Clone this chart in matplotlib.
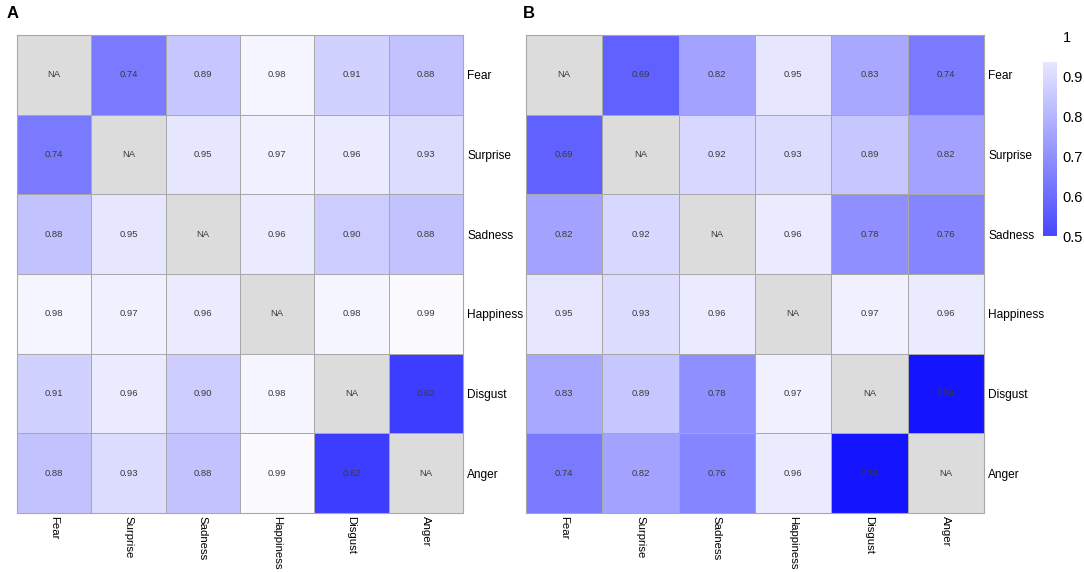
import numpy as np
import matplotlib
matplotlib.use("Agg")
import matplotlib.pyplot as plt
from matplotlib.colors import LinearSegmentedColormap

plt.rcParams['font.family'] = ['Liberation Sans', 'DejaVu Sans']

emotions = ['Fear', 'Surprise', 'Sadness', 'Happiness', 'Disgust', 'Anger']
na = np.nan

# panel A
values_a = [
    [na, 0.74, 0.89, 0.98, 0.91, 0.88],
    [0.74, na, 0.95, 0.97, 0.96, 0.93],
    [0.88, 0.95, na, 0.96, 0.90, 0.88],
    [0.98, 0.97, 0.96, na, 0.98, 0.99],
    [0.91, 0.96, 0.90, 0.98, na, 0.62],
    [0.88, 0.93, 0.88, 0.99, 0.62, na],
]

# panel B
values_b = [
    [na, 0.69, 0.82, 0.95, 0.83, 0.74],
    [0.69, na, 0.92, 0.93, 0.89, 0.82],
    [0.82, 0.92, na, 0.96, 0.78, 0.76],
    [0.95, 0.93, 0.96, na, 0.97, 0.96],
    [0.83, 0.89, 0.78, 0.97, na, 0.54],
    [0.74, 0.82, 0.76, 0.96, 0.54, na],
]

legend_ticks = [0.5, 0.6, 0.7, 0.8, 0.9, 1.0]
legend_labels = ['0.5', '0.6', '0.7', '0.8', '0.9', '1']

cmap = LinearSegmentedColormap.from_list('bw', ['#0000ff', '#ffffff'])
cmap.set_bad('#dcdcdc')
edge = '#a8a8a8'

W, H = 1084, 572
fig = plt.figure(figsize=(W / 100, H / 100), dpi=100)


def px_axes(x0, y0, x1, y1):
    return fig.add_axes([x0 / W, 1 - y1 / H, (x1 - x0) / W, (y1 - y0) / H])


def heatmap(ax, vals):
    data = np.ma.masked_invalid(np.array(vals))
    n = len(emotions)
    ax.pcolormesh(np.arange(n + 1), np.arange(n + 1), data, cmap=cmap,
                  vmin=0.5, vmax=1.0, edgecolors=edge, linewidth=0.6)
    ax.set_xlim(0, n)
    ax.set_ylim(n, 0)
    for i in range(n):
        for j in range(n):
            v = vals[i][j]
            txt = 'NA' if np.isnan(v) else f'{v:.2f}'
            ax.text(j + 0.5, i + 0.5, txt, ha='center', va='center',
                    fontsize=6.8, color='#3a3a3a')
    ax.set_xticks(np.arange(n) + 0.5)
    ax.set_xticklabels(emotions, rotation=270, fontsize=8.2)
    ax.set_yticks(np.arange(n) + 0.5)
    ax.set_yticklabels(emotions, fontsize=8.6)
    ax.yaxis.tick_right()
    ax.tick_params(axis='x', length=0, pad=2)
    ax.tick_params(axis='y', length=0, pad=3)
    for s in ax.spines.values():
        s.set_color(edge)
        s.set_linewidth(0.8)


ax_a = px_axes(17, 35, 463, 513)
heatmap(ax_a, values_a)
ax_b = px_axes(526, 35, 984, 513)
heatmap(ax_b, values_b)

fig.text(7 / W, 1 - 13 / H, 'A', fontsize=12, fontweight='bold', va='center', ha='left')
fig.text(523 / W, 1 - 13 / H, 'B', fontsize=12, fontweight='bold', va='center', ha='left')

# colour legend
ax_c = px_axes(1043, 37, 1057, 236)
grad = np.linspace(0.5, 0.935, 200).reshape(-1, 1)
ax_c.imshow(grad, cmap=cmap, vmin=0.5, vmax=1.0, aspect='auto', origin='lower',
            extent=[0, 1, 0.5, 0.935], alpha=0.72)
ax_c.set_xlim(0, 1)
ax_c.set_ylim(0.5, 1.0)
ax_c.set_xticks([])
ax_c.set_yticks(legend_ticks)
ax_c.set_yticklabels(legend_labels, fontsize=10.5)
ax_c.yaxis.tick_right()
ax_c.tick_params(length=0, pad=4)
for s in ax_c.spines.values():
    s.set_visible(False)

fig.savefig('out.png', dpi=100)
